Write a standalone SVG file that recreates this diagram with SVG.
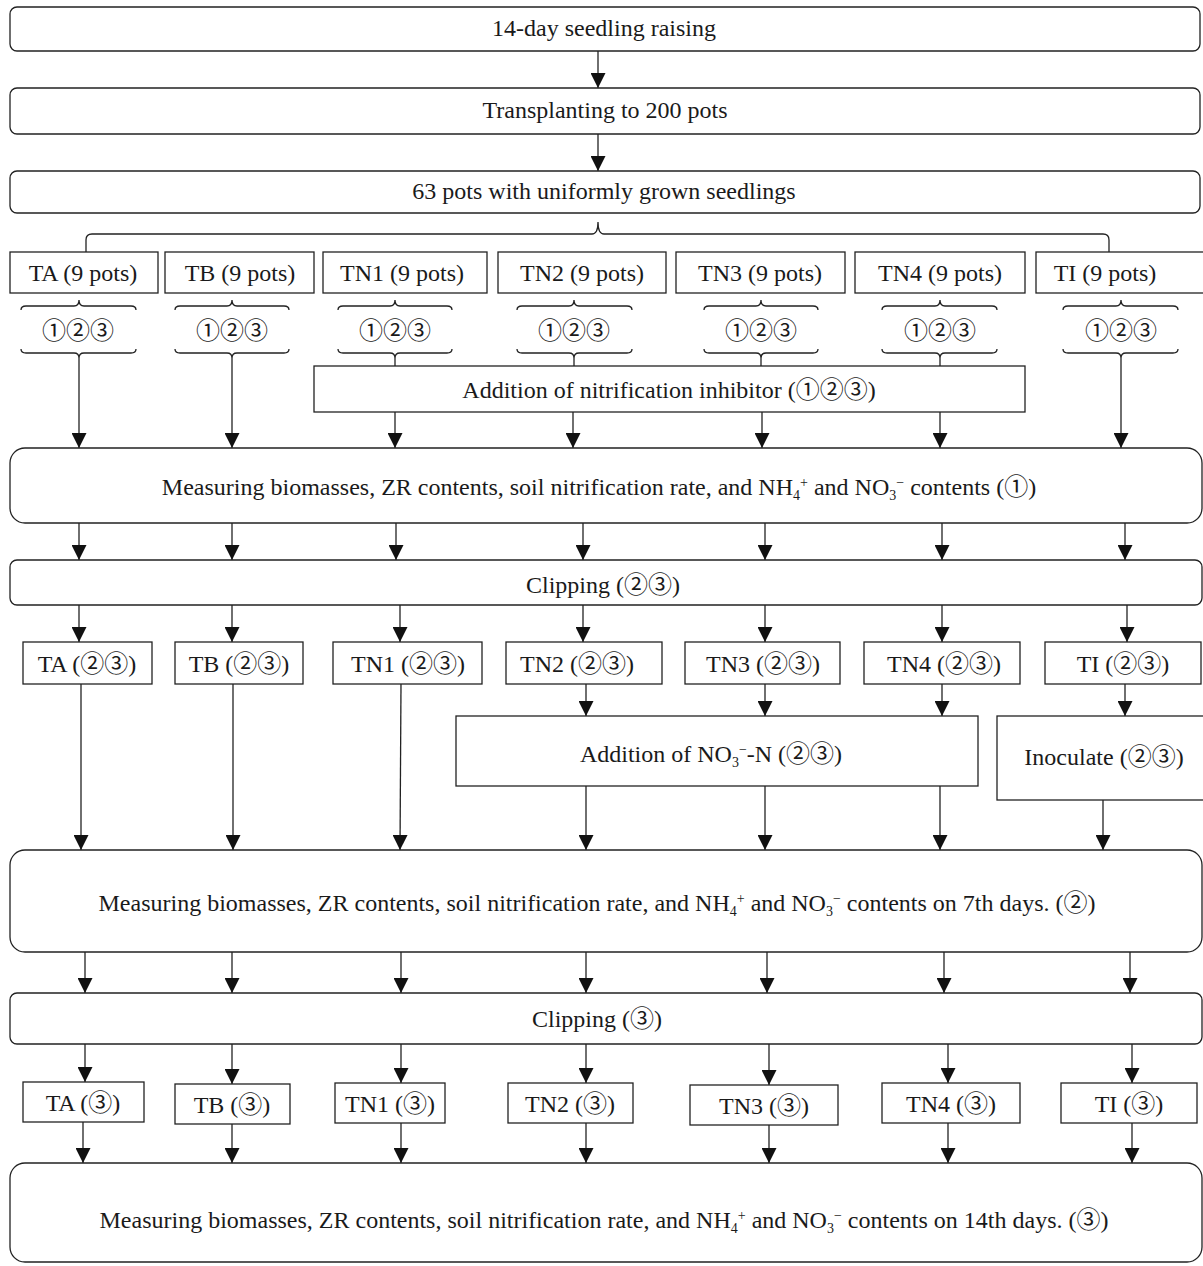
<svg xmlns="http://www.w3.org/2000/svg" width="1203" height="1266" viewBox="0 0 1203 1266">
<style>
.b{fill:#fff;stroke:#222;stroke-width:1.3}
.t{font-family:"Liberation Serif","Noto Sans CJK SC",serif;font-size:24px;fill:#1a1a1a;text-anchor:middle}
.s{font-size:14px}
.c{fill:none;stroke:#222;stroke-width:1.3}
.a{stroke:#222;stroke-width:1.3;marker-end:url(#ah)}
</style>
<defs>
<marker id="ah" viewBox="0 0 10 10" refX="10" refY="5" markerWidth="18" markerHeight="15" markerUnits="userSpaceOnUse" orient="auto">
<path d="M0,0 L10,5 L0,10 z" fill="#111"/>
</marker>
</defs>
<rect width="1203" height="1266" fill="#fff"/>

<g id="connectors">
<line class="a" x1="598" y1="51" x2="598" y2="88"/>
<line class="a" x1="598" y1="134" x2="598" y2="171"/>
<path class="c" d="M86,252 L86,240 Q86,234 92,234 L592,234 Q598,234 598,222 Q598,234 604,234 L1103,234 Q1109,234 1109,240 L1109,252"/>
<path class="c" d="M21,310 Q21,306 26,306 L74,306 Q79,306 79,300 Q79,306 84,306 L131,306 Q136,306 136,310"/>
<path class="c" d="M21,349 Q21,353 26,353 L74,353 Q79,353 79,358 Q79,353 84,353 L131,353 Q136,353 136,349"/>
<path class="c" d="M175,310 Q175,306 180,306 L227,306 Q232,306 232,300 Q232,306 237,306 L284,306 Q289,306 289,310"/>
<path class="c" d="M175,349 Q175,353 180,353 L227,353 Q232,353 232,358 Q232,353 237,353 L284,353 Q289,353 289,349"/>
<path class="c" d="M338,310 Q338,306 343,306 L390,306 Q395,306 395,300 Q395,306 400,306 L447,306 Q452,306 452,310"/>
<path class="c" d="M338,349 Q338,353 343,353 L390,353 Q395,353 395,358 Q395,353 400,353 L447,353 Q452,353 452,349"/>
<path class="c" d="M517,310 Q517,306 522,306 L569,306 Q574,306 574,300 Q574,306 579,306 L627,306 Q632,306 632,310"/>
<path class="c" d="M517,349 Q517,353 522,353 L569,353 Q574,353 574,358 Q574,353 579,353 L627,353 Q632,353 632,349"/>
<path class="c" d="M704,310 Q704,306 709,306 L756,306 Q761,306 761,300 Q761,306 766,306 L813,306 Q818,306 818,310"/>
<path class="c" d="M704,349 Q704,353 709,353 L756,353 Q761,353 761,358 Q761,353 766,353 L813,353 Q818,353 818,349"/>
<path class="c" d="M882,310 Q882,306 887,306 L935,306 Q940,306 940,300 Q940,306 945,306 L992,306 Q997,306 997,310"/>
<path class="c" d="M882,349 Q882,353 887,353 L935,353 Q940,353 940,358 Q940,353 945,353 L992,353 Q997,353 997,349"/>
<path class="c" d="M1063,310 Q1063,306 1068,306 L1116,306 Q1121,306 1121,300 Q1121,306 1126,306 L1173,306 Q1178,306 1178,310"/>
<path class="c" d="M1063,349 Q1063,353 1068,353 L1116,353 Q1121,353 1121,358 Q1121,353 1126,353 L1173,353 Q1178,353 1178,349"/>
<line class="a" x1="79" y1="358" x2="79" y2="448"/>
<line class="a" x1="232" y1="358" x2="232" y2="448"/>
<line class="a" x1="1121" y1="358" x2="1121" y2="448"/>
<line class="c" x1="395" y1="358" x2="395" y2="366"/>
<line class="c" x1="574" y1="358" x2="574" y2="366"/>
<line class="c" x1="761" y1="358" x2="761" y2="366"/>
<line class="c" x1="940" y1="358" x2="940" y2="366"/>
<line class="a" x1="395" y1="412" x2="395" y2="448"/>
<line class="a" x1="573" y1="412" x2="573" y2="448"/>
<line class="a" x1="762" y1="412" x2="762" y2="448"/>
<line class="a" x1="940" y1="412" x2="940" y2="448"/>
<line class="a" x1="79" y1="523" x2="79" y2="560"/>
<line class="a" x1="232" y1="523" x2="232" y2="560"/>
<line class="a" x1="396" y1="523" x2="396" y2="560"/>
<line class="a" x1="583" y1="523" x2="583" y2="560"/>
<line class="a" x1="765" y1="523" x2="765" y2="560"/>
<line class="a" x1="942" y1="523" x2="942" y2="560"/>
<line class="a" x1="1125" y1="523" x2="1125" y2="560"/>
<line class="a" x1="79" y1="605" x2="79" y2="642"/>
<line class="a" x1="232" y1="605" x2="232" y2="642"/>
<line class="a" x1="400" y1="605" x2="400" y2="642"/>
<line class="a" x1="583" y1="605" x2="583" y2="642"/>
<line class="a" x1="765" y1="605" x2="765" y2="642"/>
<line class="a" x1="942" y1="605" x2="942" y2="642"/>
<line class="a" x1="1127" y1="605" x2="1127" y2="642"/>
<line class="a" x1="81" y1="684" x2="81" y2="850"/>
<line class="a" x1="233" y1="684" x2="233" y2="850"/>
<line class="a" x1="401" y1="684" x2="400" y2="850"/>
<line class="a" x1="586" y1="684" x2="586" y2="716"/>
<line class="a" x1="765" y1="684" x2="765" y2="716"/>
<line class="a" x1="942" y1="684" x2="942" y2="716"/>
<line class="a" x1="1125" y1="684" x2="1125" y2="716"/>
<line class="a" x1="586" y1="786" x2="586" y2="850"/>
<line class="a" x1="765" y1="786" x2="765" y2="850"/>
<line class="a" x1="940" y1="786" x2="940" y2="850"/>
<line class="a" x1="1103" y1="800" x2="1103" y2="850"/>
<line class="a" x1="85" y1="952" x2="85" y2="993"/>
<line class="a" x1="232" y1="952" x2="232" y2="993"/>
<line class="a" x1="401" y1="952" x2="401" y2="993"/>
<line class="a" x1="586" y1="952" x2="586" y2="993"/>
<line class="a" x1="767" y1="952" x2="767" y2="993"/>
<line class="a" x1="944" y1="952" x2="944" y2="993"/>
<line class="a" x1="1130" y1="952" x2="1130" y2="993"/>
<line class="a" x1="85" y1="1044" x2="85" y2="1082"/>
<line class="a" x1="232" y1="1044" x2="232" y2="1084"/>
<line class="a" x1="401" y1="1044" x2="401" y2="1083"/>
<line class="a" x1="586" y1="1044" x2="586" y2="1083"/>
<line class="a" x1="769" y1="1044" x2="769" y2="1085"/>
<line class="a" x1="948" y1="1044" x2="948" y2="1083"/>
<line class="a" x1="1132" y1="1044" x2="1132" y2="1083"/>
<line class="a" x1="83" y1="1122" x2="83" y2="1163"/>
<line class="a" x1="232" y1="1124" x2="232" y2="1163"/>
<line class="a" x1="401" y1="1123" x2="401" y2="1163"/>
<line class="a" x1="586" y1="1123" x2="586" y2="1163"/>
<line class="a" x1="769" y1="1125" x2="769" y2="1163"/>
<line class="a" x1="948" y1="1123" x2="948" y2="1163"/>
<line class="a" x1="1132" y1="1123" x2="1132" y2="1163"/>
</g>

<g id="seedling"><rect class="b" x="10" y="7" width="1190" height="44" rx="7"/><text class="t" x="604" y="36">14-day seedling raising</text></g>
<g id="transplant"><rect class="b" x="10" y="88" width="1190" height="46" rx="7"/><text class="t" x="605" y="118">Transplanting to 200 pots</text></g>
<g id="pots63"><rect class="b" x="10" y="171" width="1190" height="42" rx="7"/><text class="t" x="604" y="199">63 pots with uniformly grown seedlings</text></g>

<g id="TA9"><rect class="b" x="10" y="252" width="148" height="41"/><text class="t" x="83" y="281">TA (9 pots)</text></g>
<g id="TB9"><rect class="b" x="165" y="252" width="149" height="41"/><text class="t" x="240" y="281">TB (9 pots)</text></g>
<g id="TN19"><rect class="b" x="323" y="252" width="164" height="41"/><text class="t" x="402" y="281">TN1 (9 pots)</text></g>
<g id="TN29"><rect class="b" x="498" y="252" width="168" height="41"/><text class="t" x="582" y="281">TN2 (9 pots)</text></g>
<g id="TN39"><rect class="b" x="676" y="252" width="169" height="41"/><text class="t" x="760" y="281">TN3 (9 pots)</text></g>
<g id="TN49"><rect class="b" x="855" y="252" width="170" height="41"/><text class="t" x="940" y="281">TN4 (9 pots)</text></g>
<g id="TI9"><rect class="b" x="1036" y="252" width="170" height="41"/><text class="t" x="1105" y="281">TI (9 pots)</text></g>

<g id="rep-TA"><text class="t" x="78" y="339">①②③</text></g>
<g id="rep-TB"><text class="t" x="232" y="339">①②③</text></g>
<g id="rep-TN1"><text class="t" x="395" y="339">①②③</text></g>
<g id="rep-TN2"><text class="t" x="574" y="339">①②③</text></g>
<g id="rep-TN3"><text class="t" x="761" y="339">①②③</text></g>
<g id="rep-TN4"><text class="t" x="940" y="339">①②③</text></g>
<g id="rep-TI"><text class="t" x="1121" y="339">①②③</text></g>

<g id="inhibitor"><rect class="b" x="314" y="366" width="711" height="46"/><text class="t" x="669" y="398">Addition of nitrification inhibitor (①②③)</text></g>

<g id="measure1"><rect class="b" x="10" y="448" width="1192" height="75" rx="15"/><text class="t" x="599" y="495">Measuring biomasses, ZR contents, soil nitrification rate, and NH<tspan class="s" dy="5">4</tspan><tspan class="s" dy="-13">+</tspan><tspan dy="8"> and NO</tspan><tspan class="s" dy="5">3</tspan><tspan class="s" dy="-13">−</tspan><tspan dy="8"> contents (①)</tspan></text></g>

<g id="clip1"><rect class="b" x="10" y="560" width="1192" height="45" rx="7"/><text class="t" x="603" y="593">Clipping (②③)</text></g>

<g id="TA23"><rect class="b" x="23" y="642" width="129" height="42"/><text class="t" x="87" y="672">TA (②③)</text></g>
<g id="TB23"><rect class="b" x="175" y="642" width="128" height="42"/><text class="t" x="239" y="672">TB (②③)</text></g>
<g id="TN123"><rect class="b" x="333" y="642" width="149" height="42"/><text class="t" x="408" y="672">TN1 (②③)</text></g>
<g id="TN223"><rect class="b" x="506" y="642" width="156" height="42"/><text class="t" x="577" y="672">TN2 (②③)</text></g>
<g id="TN323"><rect class="b" x="685" y="642" width="155" height="42"/><text class="t" x="763" y="672">TN3 (②③)</text></g>
<g id="TN423"><rect class="b" x="864" y="642" width="156" height="42"/><text class="t" x="944" y="672">TN4 (②③)</text></g>
<g id="TI23"><rect class="b" x="1045" y="642" width="156" height="42"/><text class="t" x="1123" y="672">TI (②③)</text></g>

<g id="no3"><rect class="b" x="456" y="716" width="522" height="70"/><text class="t" x="711" y="762">Addition of NO<tspan class="s" dy="5">3</tspan><tspan class="s" dy="-13">−</tspan><tspan dy="8">-N (②③)</tspan></text></g>
<g id="inoculate"><rect class="b" x="997" y="716" width="210" height="84"/><text class="t" x="1104" y="765">Inoculate (②③)</text></g>

<g id="measure2"><rect class="b" x="10" y="850" width="1192" height="102" rx="15"/><text class="t" x="597" y="911">Measuring biomasses, ZR contents, soil nitrification rate, and NH<tspan class="s" dy="5">4</tspan><tspan class="s" dy="-13">+</tspan><tspan dy="8"> and NO</tspan><tspan class="s" dy="5">3</tspan><tspan class="s" dy="-13">−</tspan><tspan dy="8"> contents on 7th days. (②)</tspan></text></g>

<g id="clip2"><rect class="b" x="10" y="993" width="1192" height="51" rx="7"/><text class="t" x="597" y="1027">Clipping (③)</text></g>

<g id="TA3"><rect class="b" x="23" y="1082" width="121" height="40"/><text class="t" x="83" y="1111">TA (③)</text></g>
<g id="TB3"><rect class="b" x="175" y="1084" width="115" height="40"/><text class="t" x="232" y="1113">TB (③)</text></g>
<g id="TN13"><rect class="b" x="335" y="1083" width="110" height="40"/><text class="t" x="390" y="1112">TN1 (③)</text></g>
<g id="TN23"><rect class="b" x="508" y="1083" width="125" height="40"/><text class="t" x="570" y="1112">TN2 (③)</text></g>
<g id="TN33"><rect class="b" x="690" y="1085" width="148" height="40"/><text class="t" x="764" y="1114">TN3 (③)</text></g>
<g id="TN43"><rect class="b" x="882" y="1083" width="138" height="40"/><text class="t" x="951" y="1112">TN4 (③)</text></g>
<g id="TI3"><rect class="b" x="1061" y="1083" width="136" height="40"/><text class="t" x="1129" y="1112">TI (③)</text></g>

<g id="measure3"><rect class="b" x="10" y="1163" width="1192" height="99" rx="15"/><text class="t" x="604" y="1228">Measuring biomasses, ZR contents, soil nitrification rate, and NH<tspan class="s" dy="5">4</tspan><tspan class="s" dy="-13">+</tspan><tspan dy="8"> and NO</tspan><tspan class="s" dy="5">3</tspan><tspan class="s" dy="-13">−</tspan><tspan dy="8"> contents on 14th days. (③)</tspan></text></g>
</svg>
